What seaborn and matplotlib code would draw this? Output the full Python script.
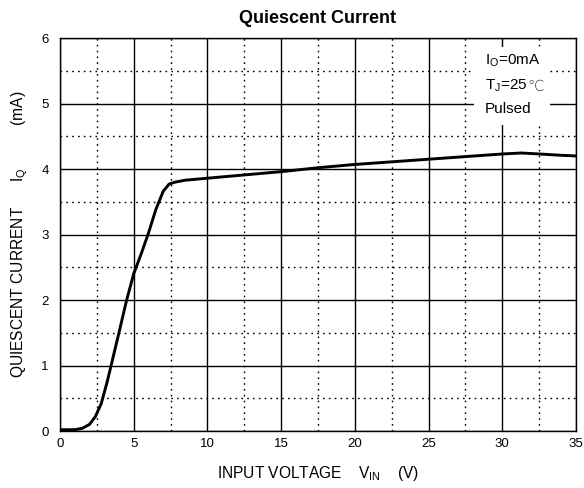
import matplotlib
matplotlib.use("Agg")
import matplotlib.pyplot as plt
import seaborn as sns
import pandas as pd
from matplotlib.patches import Rectangle

# Valores
vin = [0, 1, 1.5, 2, 2.4, 2.8, 3.2, 3.5, 4.0, 4.5, 5.0, 5.5, 6.0, 6.5, 7.0, 7.4, 7.8,
       8.5, 10, 12.5, 15, 17.5, 20, 22.5, 25, 27.5, 30, 31.3, 32.5, 34, 35]
iq = [0.02, 0.02, 0.04, 0.1, 0.22, 0.42, 0.75, 1.03, 1.5, 1.98, 2.4, 2.7, 3.02, 3.38,
      3.66, 3.77, 3.80, 3.83, 3.86, 3.91, 3.96, 4.02, 4.07, 4.11, 4.15, 4.19, 4.23,
      4.245, 4.23, 4.21, 4.2]
x_ticks = [0, 5, 10, 15, 20, 25, 30, 35]
y_ticks = [0, 1, 2, 3, 4, 5, 6]

sns.set_style("white")
plt.rcParams['font.family'] = ['Liberation Sans', 'DejaVu Sans']
plt.rcParams['mathtext.fontset'] = 'custom'
plt.rcParams['mathtext.rm'] = 'Liberation Sans'
plt.rcParams['text.color'] = 'black'
plt.rcParams['axes.labelcolor'] = 'black'
plt.rcParams['xtick.color'] = 'black'
plt.rcParams['ytick.color'] = 'black'

df = pd.DataFrame({'vin': vin, 'iq': iq})

fig = plt.figure(figsize=(5.84, 4.88), dpi=100)
ax = fig.add_axes([0.1027, 0.1168, 0.8836, 0.8052])

ax.set_xlim(0, 35)
ax.set_ylim(0, 6)
ax.set_xticks(x_ticks)
ax.set_yticks(y_ticks)
ax.set_xticks([2.5 + 5 * i for i in range(7)], minor=True)
ax.set_yticks([0.5 + i for i in range(6)], minor=True)
ax.grid(which='major', color='black', linewidth=1.0, linestyle='-')
ax.grid(which='minor', color='black', linewidth=1.0, linestyle=(0, (1.2, 3)))
ax.set_axisbelow(True)
ax.tick_params(which='both', direction='in', length=3, labelsize=9.5, color='black',
               labelcolor='black')
ax.tick_params(axis='x', which='major', pad=5)
ax.tick_params(axis='y', which='major', pad=8)
for s in ax.spines.values():
    s.set_color('black')
    s.set_linewidth(1.0)

sns.lineplot(data=df, x='vin', y='iq', ax=ax, color='black', linewidth=2.1)

# recuadro blanco con las condiciones de medida
def fx(px):
    return (px - 60) / 516

def fy(py):
    return (431 - py) / 393

ax.add_patch(Rectangle((fx(474), fy(125)), fx(550) - fx(474), fy(47) - fy(125),
                       transform=ax.transAxes, facecolor='white', edgecolor='none', zorder=2))
ax.text(fx(485), fy(64), 'I$_\\mathregular{O}$=0mA', transform=ax.transAxes,
        ha='left', va='baseline', fontsize=11, zorder=3)
tj = ax.text(fx(485), fy(89), 'T$_\\mathregular{J}$=25', transform=ax.transAxes,
             ha='left', va='baseline', fontsize=11, zorder=3)
ax.annotate('\u2103', xy=(1, 0), xycoords=tj, xytext=(-0.5, 0), textcoords='offset points',
            ha='left', va='bottom', fontsize=10.5, zorder=3, family=['DejaVu Sans'],
            fontweight='light', color='#333333')
ax.text(fx(485), fy(113), 'Pulsed', transform=ax.transAxes,
        ha='left', va='baseline', fontsize=11, zorder=3)

ax.set_title('Quiescent Current', fontsize=13, fontweight='bold', pad=11)
ax.set_xlabel('INPUT VOLTAGE    V$_\\mathregular{IN}$    (V)', fontsize=11.2, labelpad=10)
ax.set_ylabel('QUIESCENT CURRENT      I$_\\mathregular{Q}$          (mA)', fontsize=11.2, labelpad=8)

fig.savefig('out.png', dpi=100)
